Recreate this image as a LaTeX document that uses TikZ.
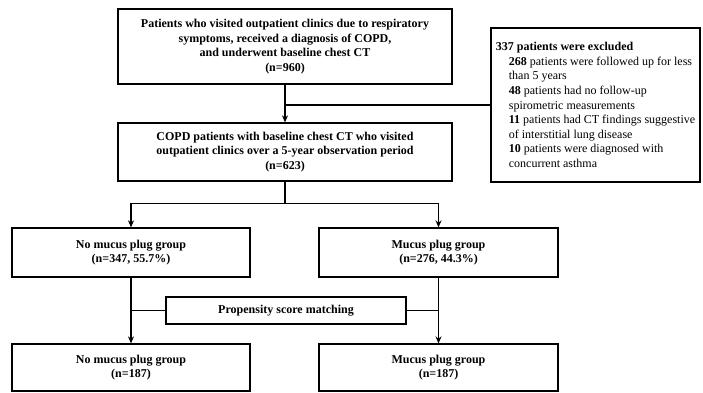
\documentclass[tikz,border=0pt]{standalone}
\usepackage{fontspec}
\setmainfont{Liberation Serif}
\usetikzlibrary{arrows.meta}

\begin{document}
\begin{tikzpicture}[x=1pt, y=-1pt,
    box/.style={draw, line width=1.3pt, inner sep=0pt, align=center,
        font=\fontsize{12}{14.6}\selectfont\bfseries},
    flow/.style={line width=1.2pt},
    arrow/.style={flow, -{Stealth[length=7pt,width=6pt]}}]
        \useasboundingbox (0,0) rectangle (703,392);

        % Enrolment
        \node[box, minimum width=334, minimum height=75] (enrol) at (285,46.5)
            {Patients who visited outpatient clinics due to respiratory\\
             symptoms, received a diagnosis of COPD,\\
             and underwent baseline chest CT\\
             (n=960)};

        % Cohort
        \node[box, minimum width=334, minimum height=58] (cohort) at (285,152)
            {COPD patients with baseline chest CT who visited\\
             outpatient clinics over a 5-year observation period\\
             (n=623)};

        % Exclusions
        \node[box, minimum width=209, minimum height=154, align=left,
            font=\fontsize{12}{14.6}\selectfont] (excl) at (595.5,105)
            {\textbf{337 patients were excluded}\\
             \hspace*{13pt}\textbf{268} patients were followed up for less\\
             \hspace*{13pt}than 5 years\\
             \hspace*{13pt}\textbf{48} patients had no follow-up\\
             \hspace*{13pt}spirometric measurements\\
             \hspace*{13pt}\textbf{11} patients had CT findings suggestive\\
             \hspace*{13pt}of interstitial lung disease\\
             \hspace*{13pt}\textbf{10} patients were diagnosed with\\
             \hspace*{13pt}concurrent asthma};

        % Groups before matching
        \node[box, minimum width=238, minimum height=49] (noplug) at (131,252.5)
            {No mucus plug group\\(n=347, 55.7\%)};
        \node[box, minimum width=239, minimum height=49] (plug) at (438.5,252.5)
            {Mucus plug group\\(n=276, 44.3\%)};

        % Matching
        \node[box, minimum width=240, minimum height=27] (psm) at (286,310.5)
            {Propensity score matching};

        % Groups after matching
        \node[box, minimum width=238, minimum height=47] (noplugm) at (131,367.5)
            {No mucus plug group\\(n=187)};
        \node[box, minimum width=239, minimum height=47] (plugm) at (438.5,367.5)
            {Mucus plug group\\(n=187)};

        % Arrows
        \draw[arrow] (enrol.south) -- (cohort.north);
        \draw[flow] (enrol.south |- excl.west) -- (excl.west);
        \draw[arrow] (cohort.south) -- ++(0,22) -| (noplug.north);
        \draw[arrow] (cohort.south) -- ++(0,22) -| (plug.north);
        \draw[arrow] (noplug.south) -- (noplugm.north);
        \draw[arrow] (plug.south) -- (plugm.north);
        \draw[flow] (psm.west) -- (noplug.south |- psm.west);
        \draw[flow] (psm.east) -- (plug.south |- psm.east);
    \end{tikzpicture}
\end{document}
